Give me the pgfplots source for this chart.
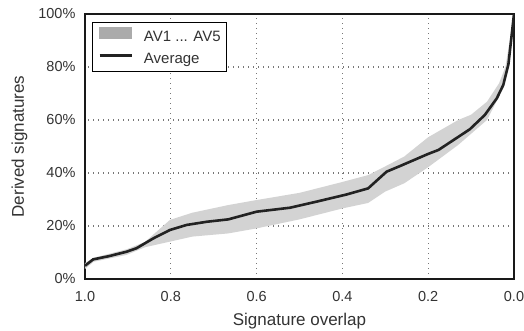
\documentclass[border=0pt]{standalone}
\usepackage{pgfplots}
\pgfplotsset{compat=1.18}
\usepackage{fontspec}
\setmainfont{Liberation Sans}
\definecolor{band}{HTML}{D3D3D3}
\definecolor{bandleg}{HTML}{ABABAB}
\definecolor{avg}{HTML}{222222}
\definecolor{txt}{HTML}{333333}
\definecolor{gridc}{HTML}{777777}
\begin{document}
\begin{tikzpicture}
\begin{axis}[
  scale only axis,
  width=429pt, height=265pt,
  xmin=0, xmax=1, ymin=0, ymax=100,
  x dir=reverse,
  xtick={0,0.2,0.4,0.6,0.8,1.0},
  xticklabels={0.0,0.2,0.4,0.6,0.8,1.0},
  ytick={0,20,40,60,80,100},
  yticklabels={0\%,20\%,40\%,60\%,80\%,100\%},
  major tick length=0pt,
  grid=major,
  major grid style={line width=1.2pt, dash pattern=on 1.2pt off 3.8pt, gridc},
  axis line style={line width=1.2pt, black!90},
  tick label style={font=\fontsize{14.5}{17}\selectfont, text=txt},
  xticklabel style={yshift=-9pt},
  yticklabel style={xshift=-6pt},
  xlabel={Signature overlap},
  ylabel={Derived signatures},
  label style={font=\fontsize{17}{20}\selectfont, text=txt},
  xlabel style={at={(axis description cs:0.5,-0.1736)}, anchor=base},
  ylabel style={at={(axis description cs:-0.1422,0.5)}, anchor=base, rotate=0},
  legend style={at={(axis description cs:0.0163,0.970)}, anchor=north west,
    draw=black, line width=0.8pt,
    font=\fontsize{15}{18}\selectfont, text=txt,
    inner xsep=6pt, inner ysep=5pt, row sep=8pt, column sep=11pt,
    nodes={inner sep=0pt, text height=11pt, text depth=3pt}},
  legend cell align=left,
]
\addplot[fill=band, draw=none, forget plot] coordinates {
(1.000,6) (0.98,8) (0.903,11.2) (0.86,14) (0.802,22.3) (0.75,25) (0.666,27.9)
(0.600,29.8) (0.50,32.5) (0.398,36.7) (0.340,39.2) (0.30,42.5) (0.256,46.2)
(0.200,53.5) (0.13,60) (0.10,62) (0.063,66.9) (0.035,73.8) (0.02,80) (0,100)
(0.015,80) (0.035,68.8) (0.063,60) (0.13,50.6) (0.200,42.2) (0.256,36.1)
(0.30,33) (0.340,28.7) (0.398,26.7) (0.50,22.5) (0.600,19.1) (0.666,17.2)
(0.75,16) (0.802,14.1) (0.86,12) (0.903,9.1) (0.98,6.5) (1.000,3.8)
} -- cycle;
\addplot[avg, line width=2.6pt, forget plot] coordinates {
(1.000,5) (0.981,7.4) (0.942,8.7) (0.903,10.3) (0.880,11.6) (0.841,15.3)
(0.802,18.5) (0.763,20.4) (0.716,21.6) (0.666,22.5) (0.600,25.4) (0.522,26.9)
(0.460,29.2) (0.39,31.9) (0.340,34.2) (0.297,40.5) (0.266,42.6) (0.200,47.2)
(0.176,48.7) (0.103,56.5) (0.068,61.9) (0.040,68.2) (0.025,73.2) (0.013,81)
(0.000,100)
};
\addlegendimage{legend image code/.code={\fill[bandleg] (0pt,-1pt) rectangle (32pt,10pt);}}
\addlegendentry{AV1 ... AV5}
\addlegendimage{legend image code/.code={\draw[avg, line width=2.6pt] (0pt,4.5pt) -- (32pt,4.5pt);}}
\addlegendentry{Average}
\end{axis}
\pgfresetboundingbox
\path[use as bounding box] (-85pt,-52pt) rectangle (439pt,279pt);
\end{tikzpicture}
\end{document}
